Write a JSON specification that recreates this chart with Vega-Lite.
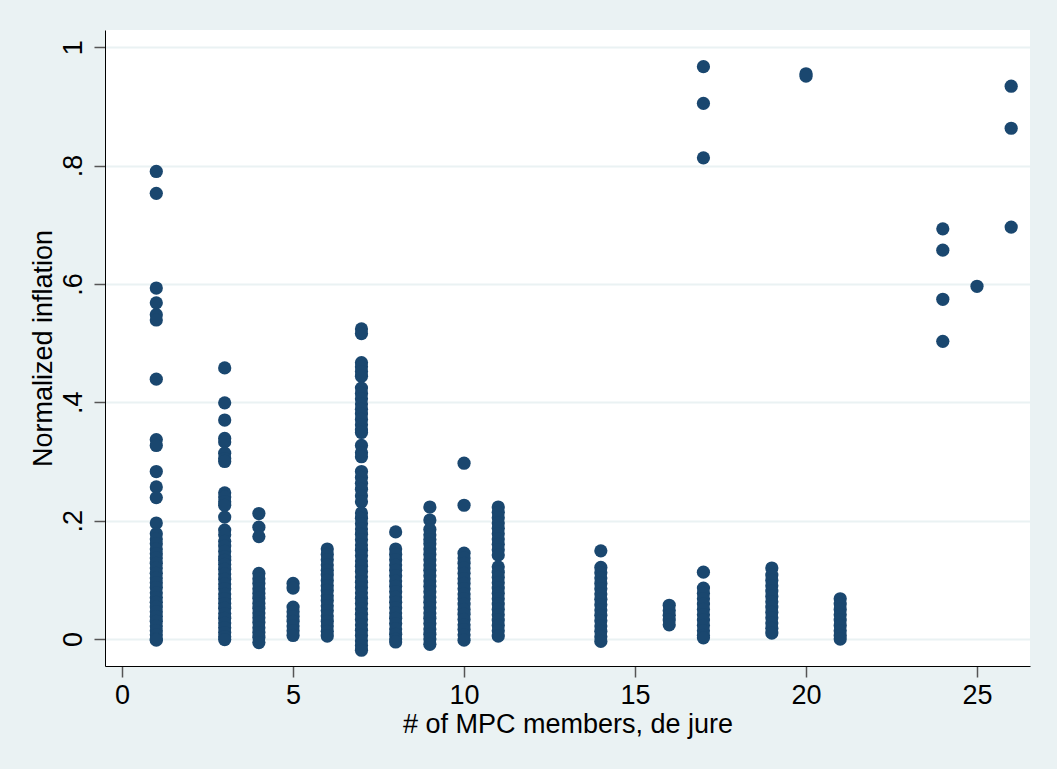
{
  "$schema": "https://vega.github.io/schema/vega-lite/v6.json",
  "width": 925,
  "height": 636,
  "autosize": {"type": "none"},
  "padding": {"left": 105, "top": 30, "right": 27, "bottom": 103},
  "background": "#EAF2F3",
  "config": {
    "view": {"fill": "white", "stroke": null},
    "font": "Liberation Sans"
  },
  "datasets": {
    "pts": [
      {"m":1,"v":0.79},{"m":1,"v":0.753},{"m":1,"v":0.593},{"m":1,"v":0.568},{"m":1,"v":0.548},{"m":1,"v":0.539},{"m":1,"v":0.439},{"m":1,"v":0.337},{"m":1,"v":0.327},{"m":1,"v":0.283},{"m":1,"v":0.257},{"m":1,"v":0.239},{"m":1,"v":0.196},
      {"m":1,"v":0.178},{"m":1,"v":0.169},{"m":1,"v":0.161},{"m":1,"v":0.152},{"m":1,"v":0.144},{"m":1,"v":0.137},{"m":1,"v":0.128},{"m":1,"v":0.12},{"m":1,"v":0.111},{"m":1,"v":0.103},{"m":1,"v":0.095},{"m":1,"v":0.087},{"m":1,"v":0.078},{"m":1,"v":0.07},{"m":1,"v":0.062},{"m":1,"v":0.054},{"m":1,"v":0.046},{"m":1,"v":0.038},{"m":1,"v":0.03},{"m":1,"v":0.022},{"m":1,"v":0.014},{"m":1,"v":0.007},{"m":1,"v":0.0},{"m":1,"v":-0.002},
      {"m":3,"v":0.458},{"m":3,"v":0.399},{"m":3,"v":0.37},{"m":3,"v":0.339},{"m":3,"v":0.333},{"m":3,"v":0.314},{"m":3,"v":0.305},{"m":3,"v":0.3},{"m":3,"v":0.247},{"m":3,"v":0.24},{"m":3,"v":0.232},{"m":3,"v":0.226},{"m":3,"v":0.206},{"m":3,"v":0.184},{"m":3,"v":0.176},{"m":3,"v":0.165},{"m":3,"v":0.157},{"m":3,"v":0.148},{"m":3,"v":0.139},{"m":3,"v":0.133},{"m":3,"v":0.126},{"m":3,"v":0.118},{"m":3,"v":0.11},{"m":3,"v":0.101},{"m":3,"v":0.093},{"m":3,"v":0.085},{"m":3,"v":0.076},{"m":3,"v":0.068},{"m":3,"v":0.06},{"m":3,"v":0.052},{"m":3,"v":0.043},{"m":3,"v":0.035},{"m":3,"v":0.027},{"m":3,"v":0.019},{"m":3,"v":0.011},{"m":3,"v":0.004},{"m":3,"v":-0.001},
      {"m":4,"v":0.212},{"m":4,"v":0.189},{"m":4,"v":0.173},{"m":4,"v":0.111},{"m":4,"v":0.102},{"m":4,"v":0.094},{"m":4,"v":0.085},{"m":4,"v":0.077},{"m":4,"v":0.069},{"m":4,"v":0.06},{"m":4,"v":0.052},{"m":4,"v":0.044},{"m":4,"v":0.036},{"m":4,"v":0.028},{"m":4,"v":0.019},{"m":4,"v":0.011},{"m":4,"v":0.003},{"m":4,"v":-0.006},
      {"m":5,"v":0.094},{"m":5,"v":0.086},{"m":5,"v":0.054},{"m":5,"v":0.046},{"m":5,"v":0.038},{"m":5,"v":0.03},{"m":5,"v":0.022},{"m":5,"v":0.014},{"m":5,"v":0.006},
      {"m":6,"v":0.152},{"m":6,"v":0.143},{"m":6,"v":0.134},{"m":6,"v":0.125},{"m":6,"v":0.116},{"m":6,"v":0.108},{"m":6,"v":0.099},{"m":6,"v":0.09},{"m":6,"v":0.082},{"m":6,"v":0.073},{"m":6,"v":0.065},{"m":6,"v":0.056},{"m":6,"v":0.048},{"m":6,"v":0.039},{"m":6,"v":0.03},{"m":6,"v":0.022},{"m":6,"v":0.013},{"m":6,"v":0.005},
      {"m":7,"v":0.524},{"m":7,"v":0.516},{"m":7,"v":0.467},{"m":7,"v":0.46},{"m":7,"v":0.452},{"m":7,"v":0.444},{"m":7,"v":0.424},{"m":7,"v":0.415},{"m":7,"v":0.406},{"m":7,"v":0.397},{"m":7,"v":0.388},{"m":7,"v":0.38},{"m":7,"v":0.371},{"m":7,"v":0.362},{"m":7,"v":0.353},{"m":7,"v":0.349},{"m":7,"v":0.327},{"m":7,"v":0.315},{"m":7,"v":0.308},{"m":7,"v":0.283},{"m":7,"v":0.273},{"m":7,"v":0.263},{"m":7,"v":0.253},{"m":7,"v":0.242},{"m":7,"v":0.232},{"m":7,"v":0.213},{"m":7,"v":0.204},{"m":7,"v":0.195},{"m":7,"v":0.186},{"m":7,"v":0.177},{"m":7,"v":0.168},{"m":7,"v":0.159},{"m":7,"v":0.15},{"m":7,"v":0.141},{"m":7,"v":0.132},{"m":7,"v":0.123},{"m":7,"v":0.114},{"m":7,"v":0.105},{"m":7,"v":0.096},{"m":7,"v":0.087},{"m":7,"v":0.078},{"m":7,"v":0.069},{"m":7,"v":0.06},{"m":7,"v":0.051},{"m":7,"v":0.042},{"m":7,"v":0.033},{"m":7,"v":0.024},{"m":7,"v":0.015},{"m":7,"v":0.006},{"m":7,"v":-0.003},{"m":7,"v":-0.011},{"m":7,"v":-0.019},
      {"m":8,"v":0.181},{"m":8,"v":0.152},{"m":8,"v":0.143},{"m":8,"v":0.134},{"m":8,"v":0.125},{"m":8,"v":0.116},{"m":8,"v":0.107},{"m":8,"v":0.098},{"m":8,"v":0.089},{"m":8,"v":0.08},{"m":8,"v":0.071},{"m":8,"v":0.062},{"m":8,"v":0.053},{"m":8,"v":0.044},{"m":8,"v":0.035},{"m":8,"v":0.026},{"m":8,"v":0.017},{"m":8,"v":0.008},{"m":8,"v":0.0},{"m":8,"v":-0.005},
      {"m":9,"v":0.223},{"m":9,"v":0.201},{"m":9,"v":0.185},{"m":9,"v":0.176},{"m":9,"v":0.168},{"m":9,"v":0.161},{"m":9,"v":0.152},{"m":9,"v":0.143},{"m":9,"v":0.134},{"m":9,"v":0.125},{"m":9,"v":0.116},{"m":9,"v":0.107},{"m":9,"v":0.098},{"m":9,"v":0.089},{"m":9,"v":0.08},{"m":9,"v":0.071},{"m":9,"v":0.062},{"m":9,"v":0.053},{"m":9,"v":0.044},{"m":9,"v":0.035},{"m":9,"v":0.026},{"m":9,"v":0.017},{"m":9,"v":0.008},{"m":9,"v":0.0},{"m":9,"v":-0.009},
      {"m":10,"v":0.297},{"m":10,"v":0.226},{"m":10,"v":0.145},{"m":10,"v":0.137},{"m":10,"v":0.128},{"m":10,"v":0.12},{"m":10,"v":0.111},{"m":10,"v":0.102},{"m":10,"v":0.094},{"m":10,"v":0.085},{"m":10,"v":0.076},{"m":10,"v":0.068},{"m":10,"v":0.059},{"m":10,"v":0.05},{"m":10,"v":0.042},{"m":10,"v":0.033},{"m":10,"v":0.024},{"m":10,"v":0.016},{"m":10,"v":0.007},{"m":10,"v":-0.002},
      {"m":11,"v":0.223},{"m":11,"v":0.214},{"m":11,"v":0.205},{"m":11,"v":0.196},{"m":11,"v":0.187},{"m":11,"v":0.178},{"m":11,"v":0.169},{"m":11,"v":0.16},{"m":11,"v":0.151},{"m":11,"v":0.142},{"m":11,"v":0.122},{"m":11,"v":0.113},{"m":11,"v":0.104},{"m":11,"v":0.095},{"m":11,"v":0.086},{"m":11,"v":0.077},{"m":11,"v":0.068},{"m":11,"v":0.059},{"m":11,"v":0.05},{"m":11,"v":0.041},{"m":11,"v":0.032},{"m":11,"v":0.023},{"m":11,"v":0.014},{"m":11,"v":0.005},
      {"m":14,"v":0.149},{"m":14,"v":0.121},{"m":14,"v":0.112},{"m":14,"v":0.103},{"m":14,"v":0.094},{"m":14,"v":0.085},{"m":14,"v":0.076},{"m":14,"v":0.067},{"m":14,"v":0.058},{"m":14,"v":0.049},{"m":14,"v":0.04},{"m":14,"v":0.031},{"m":14,"v":0.022},{"m":14,"v":0.013},{"m":14,"v":0.004},{"m":14,"v":-0.004},
      {"m":16,"v":0.057},{"m":16,"v":0.048},{"m":16,"v":0.04},{"m":16,"v":0.032},{"m":16,"v":0.024},
      {"m":17,"v":0.967},{"m":17,"v":0.905},{"m":17,"v":0.813},{"m":17,"v":0.113},{"m":17,"v":0.086},{"m":17,"v":0.077},{"m":17,"v":0.068},{"m":17,"v":0.059},{"m":17,"v":0.05},{"m":17,"v":0.041},{"m":17,"v":0.032},{"m":17,"v":0.023},{"m":17,"v":0.014},{"m":17,"v":0.006},{"m":17,"v":0.002},
      {"m":19,"v":0.12},{"m":19,"v":0.108},{"m":19,"v":0.099},{"m":19,"v":0.09},{"m":19,"v":0.081},{"m":19,"v":0.072},{"m":19,"v":0.063},{"m":19,"v":0.054},{"m":19,"v":0.045},{"m":19,"v":0.036},{"m":19,"v":0.027},{"m":19,"v":0.018},{"m":19,"v":0.01},
      {"m":20,"v":0.955},{"m":20,"v":0.951},
      {"m":21,"v":0.068},{"m":21,"v":0.059},{"m":21,"v":0.05},{"m":21,"v":0.041},{"m":21,"v":0.032},{"m":21,"v":0.023},{"m":21,"v":0.014},{"m":21,"v":0.006},{"m":21,"v":0.0},
      {"m":24,"v":0.693},{"m":24,"v":0.657},{"m":24,"v":0.574},{"m":24,"v":0.503},
      {"m":25,"v":0.596},
      {"m":26,"v":0.934},{"m":26,"v":0.863},{"m":26,"v":0.696}
    ]
  },
  "data": {"name": "pts"},
  "mark": {"type": "circle", "size": 175, "color": "#1A476F", "opacity": 1},
  "encoding": {
    "x": {
      "field": "m", "type": "quantitative",
      "scale": {"domain": [-0.5, 26.55], "nice": false, "zero": false},
      "axis": {
        "title": "# of MPC members, de jure",
        "values": [0, 5, 10, 15, 20, 25],
        "grid": false,
        "domainColor": "black", "domainWidth": 1,
        "tickColor": "#555555", "tickWidth": 1.5, "tickSize": 11,
        "labelFont": "Liberation Sans", "labelFontSize": 27, "labelColor": "black", "labelPadding": 5,
        "titleFont": "Liberation Sans", "titleFontSize": 27, "titleFontWeight": "normal", "titleColor": "black", "titlePadding": 3
      }
    },
    "y": {
      "field": "v", "type": "quantitative",
      "scale": {"domain": [-0.0456, 1.029], "nice": false, "zero": false},
      "axis": {
        "title": "Normalized inflation",
        "values": [0, 0.2, 0.4, 0.6, 0.8, 1],
        "labelExpr": "datum.value == 0 ? '0' : datum.value == 1 ? '1' : replace(format(datum.value, '.1f'), '0.', '.')",
        "labelAngle": -90,
        "grid": true, "gridColor": "#EAF2F3", "gridWidth": 2,
        "domainColor": "black", "domainWidth": 1,
        "tickColor": "#555555", "tickWidth": 1.5, "tickSize": 11,
        "labelFont": "Liberation Sans", "labelFontSize": 27, "labelColor": "black", "labelPadding": 7,
        "titleFont": "Liberation Sans", "titleFontSize": 27, "titleFontWeight": "normal", "titleColor": "black", "titlePadding": 2
      }
    }
  }
}
